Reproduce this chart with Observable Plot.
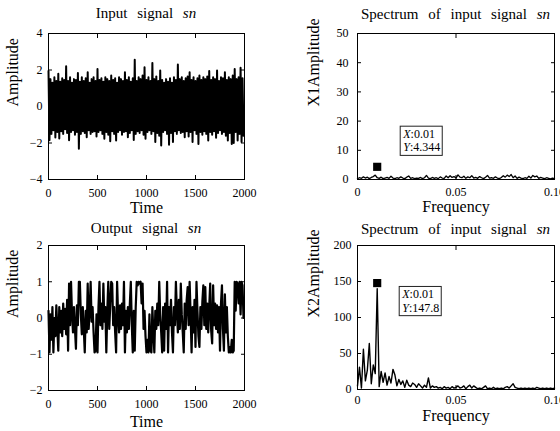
<!DOCTYPE html>
<html><head><meta charset="utf-8">
<script src="https://cdn.jsdelivr.net/npm/d3@7"></script>
<script src="https://cdn.jsdelivr.net/npm/@observablehq/plot@0.6"></script>
<style>
html,body{margin:0;padding:0;background:#fff;}
#wrap{position:relative;width:560px;height:431px;overflow:hidden;font-family:"Liberation Serif","Times New Roman",serif;background:#fff;}
#wrap svg{position:absolute;max-width:none;overflow:visible;}
.ttl{position:absolute;text-align:center;font-size:15px;line-height:15px;word-spacing:6px;white-space:nowrap;color:#000;}
</style></head><body><div id="wrap"></div>
<script>
// ---------- data ----------
const timeTicks = [0, 500, 1000, 1500, 2000];
const inAmpTicks = [-4, -2, 0, 2, 4];
const outAmpTicks = [-2, -1, 0, 1, 2];
const freqTicks = [0, 0.05, 0.1];
const freqTickLabels = ["0", "0.05", "0.10"];
const spec1Ticks = [0, 10, 20, 30, 40, 50];
const spec2Ticks = [0, 50, 100, 150, 200];

// input signal: upper peaks (t = 0,20,...) and lower troughs (t = 10,30,...)
const inUpper = [1.95,1.5,1.3,1.6,1.4,1.8,1.35,1.55,1.45,2.2,
 1.4,1.6,1.3,1.5,1.45,1.83,1.35,1.6,1.4,1.55,
 1.88,1.3,1.5,1.6,1.4,2.06,1.45,1.55,1.35,1.6,
 1.5,1.4,1.7,1.45,1.55,1.3,1.6,1.5,1.4,1.88,
 1.45,1.6,1.35,1.55,2.56,1.4,1.6,1.5,1.7,2.15,
 1.45,1.6,1.4,2.39,1.5,1.65,1.4,1.97,1.45,1.3,
 1.5,1.35,1.55,1.3,1.6,1.45,2.3,1.5,1.6,1.4,
 1.55,1.65,1.88,1.45,1.6,1.4,1.55,1.7,1.45,1.6,
 1.5,1.65,1.94,1.45,1.6,1.5,1.97,1.4,1.6,1.55,
 1.88,1.45,1.6,1.5,1.7,2.06,1.5,1.6,2.12,1.55];
const inLower = [-1.85,-1.5,-1.3,-1.7,-1.4,-1.75,-1.35,-1.5,-1.25,-1.45,
 -1.85,-1.4,-1.3,-1.55,-1.4,-2.32,-1.5,-1.35,-1.45,-1.68,
 -1.3,-1.5,-1.4,-1.35,-1.64,-1.4,-1.3,-1.5,-1.77,-1.4,
 -1.55,-1.9,-1.35,-1.5,-1.86,-1.4,-1.3,-1.55,-1.4,-1.35,
 -1.68,-1.45,-1.3,-1.83,-1.5,-1.35,-1.45,-1.3,-1.55,-1.77,
 -1.4,-1.3,-1.5,-1.35,-1.95,-1.45,-1.6,-2.14,-1.4,-1.3,
 -1.5,-2.1,-1.45,-1.95,-1.35,-1.5,-1.3,-1.45,-1.4,-1.68,
 -1.35,-1.64,-1.4,-1.95,-1.3,-1.5,-2.05,-1.4,-1.55,-1.35,
 -1.5,-1.86,-1.4,-1.55,-1.35,-1.71,-1.45,-1.3,-1.5,-1.4,
 -1.6,-1.86,-1.45,-2.05,-2.0,-1.4,-1.86,-1.5,-1.95,-1.6];

// output signal, one value every 10 time units
const outValues = [0.2,-0.95,0.1,-0.6,0.3,-0.95,0.0,-0.5,0.35,-0.3,
 -0.9,0.3,-0.4,0.2,-0.5,0.4,-0.3,0.25,-0.45,0.5,
 -0.9,0.95,-0.2,1.0,0.1,-0.4,0.3,-0.3,-0.85,0.35,
 -0.2,1.0,1.0,0.1,-0.45,0.3,-0.3,-0.95,0.2,-0.4,
 0.95,-0.3,0.2,1.0,-0.1,0.3,-0.4,-0.95,-0.9,0.1,
 -0.95,0.3,1.0,-0.2,0.4,-0.3,0.95,-0.1,0.3,-0.95,
 0.2,1.0,-0.3,0.35,1.0,0.95,-0.2,0.3,-0.4,-0.95,
 1.0,0.1,-0.4,0.35,-0.3,0.4,-0.2,1.0,-0.95,0.2,
 -0.4,0.3,-0.3,0.4,1.0,-0.2,-0.95,0.2,-0.9,0.3,
 1.0,0.9,1.0,0.95,1.0,0.4,0.95,-0.3,0.2,-0.5,
 -0.95,-0.6,-0.95,0.1,-0.9,-0.95,0.3,-0.4,-0.95,0.2,
 -0.3,0.4,-0.2,1.0,0.1,-0.4,-0.95,0.3,-0.9,0.4,
 -0.3,1.0,-0.95,0.3,-0.2,0.5,-0.4,-0.95,0.3,-0.2,
 1.0,0.2,-0.4,0.5,-0.3,0.95,0.1,-0.4,-0.95,0.4,
 -0.3,0.5,0.85,-0.2,1.0,0.1,-0.95,0.3,-0.4,0.5,
 -0.8,1.0,0.2,-0.5,-0.8,0.3,-0.3,0.45,0.9,-0.2,
 0.85,-0.3,0.4,-0.4,0.3,0.95,-0.35,-0.7,0.9,-0.2,
 0.4,-0.3,0.35,-0.4,0.3,-0.9,0.4,0.9,-0.3,-0.9,
 0.65,-0.4,0.3,-0.5,-0.95,-0.8,-0.95,-0.6,-0.95,-0.9,
 1.0,0.2,1.0,0.95,0.4,1.0,0.1,1.0,0.9,0.0];

// spectra, one value every 0.001
const spec1Values = [0.3,0.6,0.4,0.9,0.5,0.8,0.3,0.7,1.0,1.5,
 0.6,0.4,0.8,0.3,0.5,0.7,0.4,1.1,0.5,0.3,
 0.6,0.4,0.9,0.5,0.3,0.8,1.2,0.4,0.6,0.3,
 0.5,0.4,0.7,0.3,0.6,1.4,0.5,0.3,0.7,0.4,
 0.6,0.3,0.9,0.5,0.4,1.2,0.6,1.3,0.7,1.0,
 0.5,1.6,0.8,0.6,1.1,0.4,0.9,0.6,1.3,0.5,
 0.7,0.4,1.0,0.6,0.3,0.8,1.4,0.5,0.6,0.4,
 0.9,0.5,0.3,0.7,1.3,0.8,1.5,1.0,1.7,0.6,
 1.2,0.4,0.8,0.5,0.3,0.6,0.4,1.1,0.5,1.4,
 0.9,1.2,0.4,0.7,0.5,0.3,0.6,0.4,0.2,0.5,0.3];
const spec2Values = [5,31,2,56,12,27,64,8,34,22,
 140,4,25,10,23,6,18,9,28,20,
 5,14,7,12,3,13,6,4,9,7,
 3,8,5,2,6,3,16,2,5,3,
 4,2,3,1,4,2,3,1,4,2,
 3,5,2,3,5,1,4,6,2,5,
 3,1,2,1,3,5,1,2,1,3,
 1,2,1,2,1,3,4,2,5,8,
 3,2,1,2,1,2,1,2,1,2,
 1,3,2,1,2,1,2,1,2,1,2];

const tip1 = [{x: 0.01, y: 4.344, xText: "0.01", yText: "4.344"}];
const tip2 = [{x: 0.01, y: 147.8, xText: "0.01", yText: "147.8"}];

// ---------- tables ----------
const inputSeries = inUpper.flatMap((u, k) => [{t: 20 * k, v: u}, {t: 20 * k + 10, v: inLower[k]}]);
const outputSeries = outValues.map((v, i) => ({t: i * 10, v}));
const spec1Series = spec1Values.map((v, i) => ({f: i / 1000, v}));
const spec2Series = spec2Values.map((v, i) => ({f: i / 1000, v}));

const FONT = "Liberation Serif, Times New Roman, serif";
const wrap = document.getElementById("wrap");
const intFmt = d => (d < 0 ? "\u2212" + Math.abs(d) : String(d));

function panel(c) {
  const svg = Plot.plot({
    width: c.width, height: c.height,
    marginTop: c.mt, marginRight: c.mr, marginBottom: c.mb, marginLeft: c.ml,
    style: {fontFamily: FONT, fontSize: "12px", color: "black", background: "transparent", overflow: "visible"},
    x: {domain: c.xDomain},
    y: {domain: c.yDomain},
    marks: [
      ...c.marks,
      Plot.frame({stroke: "black", strokeWidth: 1}),
      Plot.axisX({anchor: "bottom", ticks: c.xTicks, tickFormat: c.xFormat, tickSize: -4, tickPadding: c.xPad, label: null}),
      Plot.axisX({anchor: "top", ticks: c.xTicks, tickFormat: () => "", tickSize: -4, label: null}),
      Plot.axisY({anchor: "left", ticks: c.yTicks, tickFormat: intFmt, tickSize: -4, tickPadding: c.yPad, label: null}),
      Plot.axisY({anchor: "right", ticks: c.yTicks, tickFormat: () => "", tickSize: -4, label: null}),
      Plot.text([c.xLabel], {text: d => d, frameAnchor: "bottom", lineAnchor: "bottom", dy: c.xLabelDy, fontSize: 16, fontFamily: FONT}),
      Plot.text([c.yLabel], {text: d => d, frameAnchor: "left", rotate: -90, lineAnchor: "bottom", dx: c.yLabelDx, fontSize: 16, fontFamily: FONT})
    ]
  });
  svg.style.left = c.left + "px";
  svg.style.top = c.top + "px";
  wrap.appendChild(svg);
  return svg;
}

function tipMarks(tip, dx, dy) {
  return [
    Plot.dot(tip, {x: "x", y: "y", symbol: "square", fill: "black", r: 4.6}),
    Plot.text(tip, {x: "x", y: "y", text: d => `X:${d.xText}\nY:${d.yText}`, textAnchor: "start", lineAnchor: "top", dx, dy, fontSize: 12, lineHeight: 1.1, fontFamily: FONT})
  ];
}

panel({left: 0, top: 0, width: 280, height: 215, mt: 33, mr: 36, mb: 36, ml: 48,
  xDomain: [0, 2000], yDomain: [-4, 4], xTicks: timeTicks, xFormat: intFmt, yTicks: inAmpTicks,
  xPad: 13, yPad: 10, xLabel: "Time", yLabel: "Amplitude", xLabelDy: 33, yLabelDx: -31,
  marks: [Plot.line(inputSeries, {x: "t", y: "v", stroke: "black", strokeWidth: 2})]});

panel({left: 280, top: 0, width: 280, height: 215, mt: 33, mr: 6, mb: 36, ml: 77,
  xDomain: [0, 0.1], yDomain: [0, 50], xTicks: freqTicks, xFormat: d => freqTickLabels[freqTicks.indexOf(d)], yTicks: spec1Ticks,
  xPad: 11.5, yPad: 13, xLabel: "Frequency", yLabel: "X1Amplitude", xLabelDy: 32.5, yLabelDx: -39,
  marks: [Plot.line(spec1Series, {x: "f", y: "v", stroke: "black", strokeWidth: 1.3}), ...tipMarks(tip1, 26, -38)]});

panel({left: 0, top: 215, width: 280, height: 216, mt: 30, mr: 36, mb: 41, ml: 48,
  xDomain: [0, 2000], yDomain: [-2, 2], xTicks: timeTicks, xFormat: intFmt, yTicks: outAmpTicks,
  xPad: 13, yPad: 10, xLabel: "Time", yLabel: "Amplitude", xLabelDy: 36, yLabelDx: -31,
  marks: [Plot.line(outputSeries, {x: "t", y: "v", stroke: "black", strokeWidth: 2.2})]});

panel({left: 280, top: 215, width: 280, height: 216, mt: 30, mr: 6, mb: 42, ml: 77,
  xDomain: [0, 0.1], yDomain: [0, 200], xTicks: freqTicks, xFormat: d => freqTickLabels[freqTicks.indexOf(d)], yTicks: spec2Ticks,
  xPad: 9.5, yPad: 10, xLabel: "Frequency", yLabel: "X2Amplitude", xLabelDy: 31.5, yLabelDx: -39,
  marks: [Plot.line(spec2Series, {x: "f", y: "v", stroke: "black", strokeWidth: 1.4}), ...tipMarks(tip2, 25, 6)]});

// data-tip boxes: italic X / Y and a framed background
wrap.querySelectorAll("text").forEach(t => {
  const tsp = t.querySelectorAll("tspan");
  if (tsp.length !== 2 || !tsp[0].textContent.startsWith("X:")) return;
  tsp.forEach(s => {
    const txt = s.textContent;
    s.textContent = "";
    const it = document.createElementNS("http://www.w3.org/2000/svg", "tspan");
    it.setAttribute("font-style", "italic");
    it.textContent = txt[0];
    s.appendChild(it);
    s.appendChild(document.createTextNode(txt.slice(1)));
  });
  const bb = t.getBBox();
  const r = document.createElementNS("http://www.w3.org/2000/svg", "rect");
  r.setAttribute("x", bb.x - 2);
  r.setAttribute("y", bb.y - 1);
  r.setAttribute("width", bb.width + 4);
  r.setAttribute("height", bb.height + 2);
  r.setAttribute("fill", "white");
  r.setAttribute("stroke", "#222");
  r.setAttribute("stroke-width", "1");
  if (t.getAttribute("transform")) r.setAttribute("transform", t.getAttribute("transform"));
  t.parentNode.insertBefore(r, t);
});

// titles
const titles = [
  {html: "Input signal <i>sn</i>", left: 48, width: 196, top: 6},
  {html: "Spectrum of input signal <i>sn</i>", left: 357, width: 197, top: 6.5},
  {html: "Output signal <i>sn</i>", left: 48, width: 196, top: 221},
  {html: "Spectrum of input signal <i>sn</i>", left: 357, width: 197, top: 222}
];
titles.forEach(d => {
  const el = document.createElement("div");
  el.className = "ttl";
  el.innerHTML = d.html;
  el.style.left = d.left + "px";
  el.style.width = d.width + "px";
  el.style.top = d.top + "px";
  wrap.appendChild(el);
});
</script></body></html>
